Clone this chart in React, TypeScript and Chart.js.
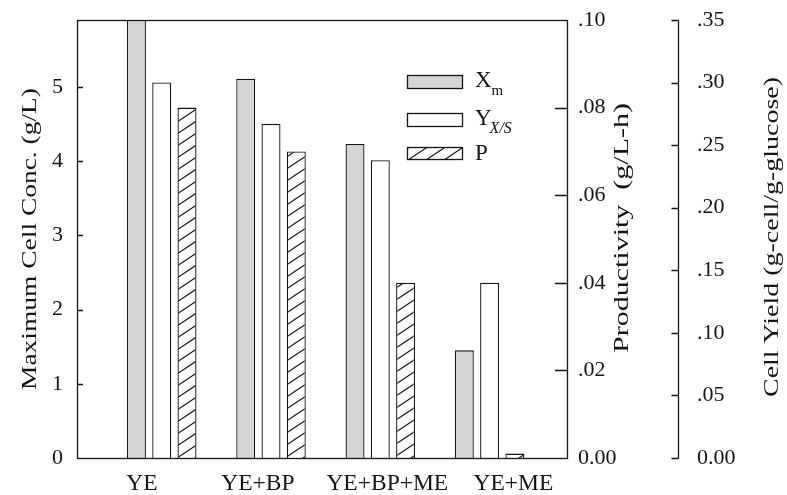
import React, { useEffect, useRef } from 'react';
import { Chart, registerables } from 'chart.js';

Chart.register(...registerables);

// ---- data ----
const categories = ['YE', 'YE+BP', 'YE+BP+ME', 'YE+ME'];
const cellConc = [6.0, 5.11, 4.23, 1.45]; // Xm, g/L (left axis)
const cellYield = [0.3, 0.267, 0.238, 0.14]; // Y X/S (right axis)
const productivity = [0.08, 0.07, 0.04, 0.001]; // P, g/L-h (middle axis)
const concTicks = [0, 1, 2, 3, 4, 5];
const prodTicks = [0, 0.02, 0.04, 0.06, 0.08, 0.1];
const yieldTicks = [0, 0.05, 0.1, 0.15, 0.2, 0.25, 0.3, 0.35];
const concMax = 5.9;
const prodMax = 0.1;
const yieldMax = 0.35;

// layout: category labels in the original sit slightly off the group centres
const LABEL_SHIFT = [-0.18, -0.12, 0.064, 0.218];

const FONT = '"Liberation Serif", "Times New Roman", serif';
const INK = '#151515';
const GRAY = '#d5d5d5';

function makeHatch(): CanvasPattern | string {
  const c = document.createElement('canvas');
  c.width = 18;
  c.height = 12;
  const g = c.getContext('2d');
  if (!g) return '#fff';
  g.fillStyle = '#fff';
  g.fillRect(0, 0, 18, 12);
  g.strokeStyle = INK;
  g.lineWidth = 1.1;
  g.beginPath();
  for (const dx of [-18, 0, 18]) {
    g.moveTo(dx - 1.5, 12 + 1);
    g.lineTo(dx + 18 + 1.5, -1);
  }
  g.stroke();
  const p = g.createPattern(c, 'repeat');
  return p || '#fff';
}

function fmtFrac(v: number) {
  if (v === 0) return '0.00';
  return v.toFixed(2).replace(/^0/, '');
}

export default function App() {
  const ref = useRef<HTMLCanvasElement | null>(null);

  useEffect(() => {
    if (!ref.current) return;
    const hatch = makeHatch();

    const drawTitle = (ctx: CanvasRenderingContext2D, text: string, bx: number, cy: number, len: number) => {
      ctx.save();
      ctx.font = `21px ${FONT}`;
      const w = ctx.measureText(text).width;
      ctx.translate(bx, cy);
      ctx.rotate(-Math.PI / 2);
      ctx.scale(len / w, 1);
      ctx.textAlign = 'center';
      ctx.textBaseline = 'alphabetic';
      ctx.fillStyle = INK;
      ctx.fillText(text, 0, 0);
      ctx.restore();
    };

    const decor = {
      id: 'decor',
      afterDraw(chart: any) {
        const ctx: CanvasRenderingContext2D = chart.ctx;
        const a = chart.chartArea;
        const sy = chart.scales.y;
        const sp = chart.scales.yP;
        const syy = chart.scales.yY;
        ctx.save();
        ctx.strokeStyle = INK;
        ctx.lineWidth = 1.3;
        ctx.strokeRect(Math.round(a.left) + 0.5, Math.round(a.top) + 0.5, Math.round(a.right - a.left), Math.round(a.bottom - a.top));
        ctx.beginPath();
        concTicks.forEach((v) => {
          if (v === 0) return;
          const y = Math.round(sy.getPixelForValue(v)) + 0.5;
          ctx.moveTo(a.left, y);
          ctx.lineTo(a.left + 6, y);
        });
        prodTicks.forEach((v) => {
          if (v === 0 || v === prodMax) return;
          const y = Math.round(sp.getPixelForValue(v)) + 0.5;
          ctx.moveTo(a.right - 12, y);
          ctx.lineTo(a.right, y);
        });
        const x0 = Math.round(syy.left) + 0.5;
        ctx.moveTo(x0, Math.round(syy.getPixelForValue(yieldMax)) + 0.5);
        ctx.lineTo(x0, Math.round(syy.getPixelForValue(0)) + 0.5);
        yieldTicks.forEach((v) => {
          const y = Math.round(syy.getPixelForValue(v)) + 0.5;
          ctx.moveTo(x0 - 7, y);
          ctx.lineTo(x0, y);
        });
        ctx.stroke();

        drawTitle(ctx, 'Maximum Cell Conc. (g/L)', 36, 239, 302);
        drawTitle(ctx, 'Productivity  (g/L-h)', 628, 228, 250);
        drawTitle(ctx, 'Cell Yield (g-cell/g-glucose)', 778, 237, 320);

        const boxes = [
          { y: 75, h: 13, fill: GRAY as any },
          { y: 113, h: 13, fill: '#fff' as any },
          { y: 147, h: 12, fill: hatch as any },
        ];
        boxes.forEach((b) => {
          ctx.fillStyle = b.fill;
          ctx.fillRect(407, b.y, 55, b.h);
          ctx.strokeRect(407.5, b.y + 0.5, 55, b.h);
        });
        ctx.fillStyle = INK;
        ctx.textAlign = 'left';
        ctx.textBaseline = 'alphabetic';
        ctx.font = `23px ${FONT}`;
        ctx.fillText('X', 475, 87);
        const wX = ctx.measureText('X').width;
        ctx.fillText('Y', 475, 125);
        const wY = ctx.measureText('Y').width;
        ctx.fillText('P', 475, 160);
        ctx.font = `15px ${FONT}`;
        ctx.fillText('m', 475 + wX, 95);
        ctx.font = `italic 16px ${FONT}`;
        ctx.fillText('X/S', 475 + wY - 2, 133);
        ctx.restore();
      },
    };

    const tickFont = { family: FONT, size: 22 };
    const noGrid = { display: false, drawTicks: false };
    const noBorder = { display: false };
    const fitV = (w: number) => (s: any) => {
      s.width = w;
      s.paddingTop = 0;
      s.paddingBottom = 0;
    };

    const chart = new Chart(ref.current, {
      type: 'bar',
      data: {
        datasets: [
          {
            label: 'Xm',
            data: cellConc.map((v, i) => ({ x: i + 1, y: v })),
            yAxisID: 'y',
            backgroundColor: GRAY,
            borderColor: INK,
            borderWidth: 1.3,
          },
          {
            label: 'Y X/S',
            data: cellYield.map((v, i) => ({ x: i + 1, y: v })),
            yAxisID: 'yY',
            backgroundColor: '#ffffff',
            borderColor: INK,
            borderWidth: 1.3,
          },
          {
            label: 'P',
            data: productivity.map((v, i) => ({ x: i + 1, y: v })),
            yAxisID: 'yP',
            backgroundColor: hatch as any,
            borderColor: INK,
            borderWidth: 1.3,
          },
        ] as any,
      },
      options: {
        animation: false,
        responsive: true,
        maintainAspectRatio: false,
        devicePixelRatio: 1,
        categoryPercentage: 0.694,
        barPercentage: 0.75,
        layout: { padding: { top: 20, left: 0, right: 0, bottom: 0 } },
        plugins: { legend: { display: false }, tooltip: { enabled: false } },
        scales: {
          x: {
            type: 'linear',
            offset: false,
            min: 0.225,
            max: 4.708,
            grid: { display: false, drawTicks: false, offset: false },
            border: noBorder,
            afterBuildTicks: (s: any) => {
              s.ticks = categories.map((_, i) => ({ value: i + 1 + LABEL_SHIFT[i] }));
            },
            afterFit: (s: any) => {
              s.height = 37;
              s.paddingLeft = 0;
              s.paddingRight = 0;
            },
            ticks: {
              callback: (_v: any, i: number) => categories[i] ?? '',
              font: { family: FONT, size: 23.5 },
              color: INK,
              padding: 12,
              autoSkip: false,
              maxRotation: 0,
            },
          },
          y: {
            type: 'linear',
            position: 'left',
            min: 0,
            max: concMax,
            grid: noGrid,
            border: noBorder,
            afterBuildTicks: (s: any) => {
              s.ticks = concTicks.map((v) => ({ value: v }));
            },
            afterFit: fitV(77),
            ticks: { callback: (v: any) => String(v), font: tickFont, color: INK, padding: 14 },
          },
          yP: {
            type: 'linear',
            position: 'right',
            min: 0,
            max: prodMax,
            grid: noGrid,
            border: noBorder,
            afterBuildTicks: (s: any) => {
              s.ticks = prodTicks.map((v) => ({ value: v }));
            },
            afterFit: fitV(111),
            ticks: { callback: (v: any) => fmtFrac(Number(v)), font: tickFont, color: INK, padding: 11 },
          },
          yY: {
            type: 'linear',
            position: 'right',
            min: 0,
            max: yieldMax,
            grid: noGrid,
            border: noBorder,
            afterBuildTicks: (s: any) => {
              s.ticks = yieldTicks.map((v) => ({ value: v }));
            },
            afterFit: fitV(109),
            ticks: { callback: (v: any) => fmtFrac(Number(v)), font: tickFont, color: INK, padding: 19 },
          },
        },
      } as any,
      plugins: [decor],
    });

    return () => chart.destroy();
  }, []);

  return (
    <div style={{ position: 'absolute', left: 0, top: 0, width: 787, height: 495, background: '#fff' }}>
      <canvas ref={ref} />
    </div>
  );
}
